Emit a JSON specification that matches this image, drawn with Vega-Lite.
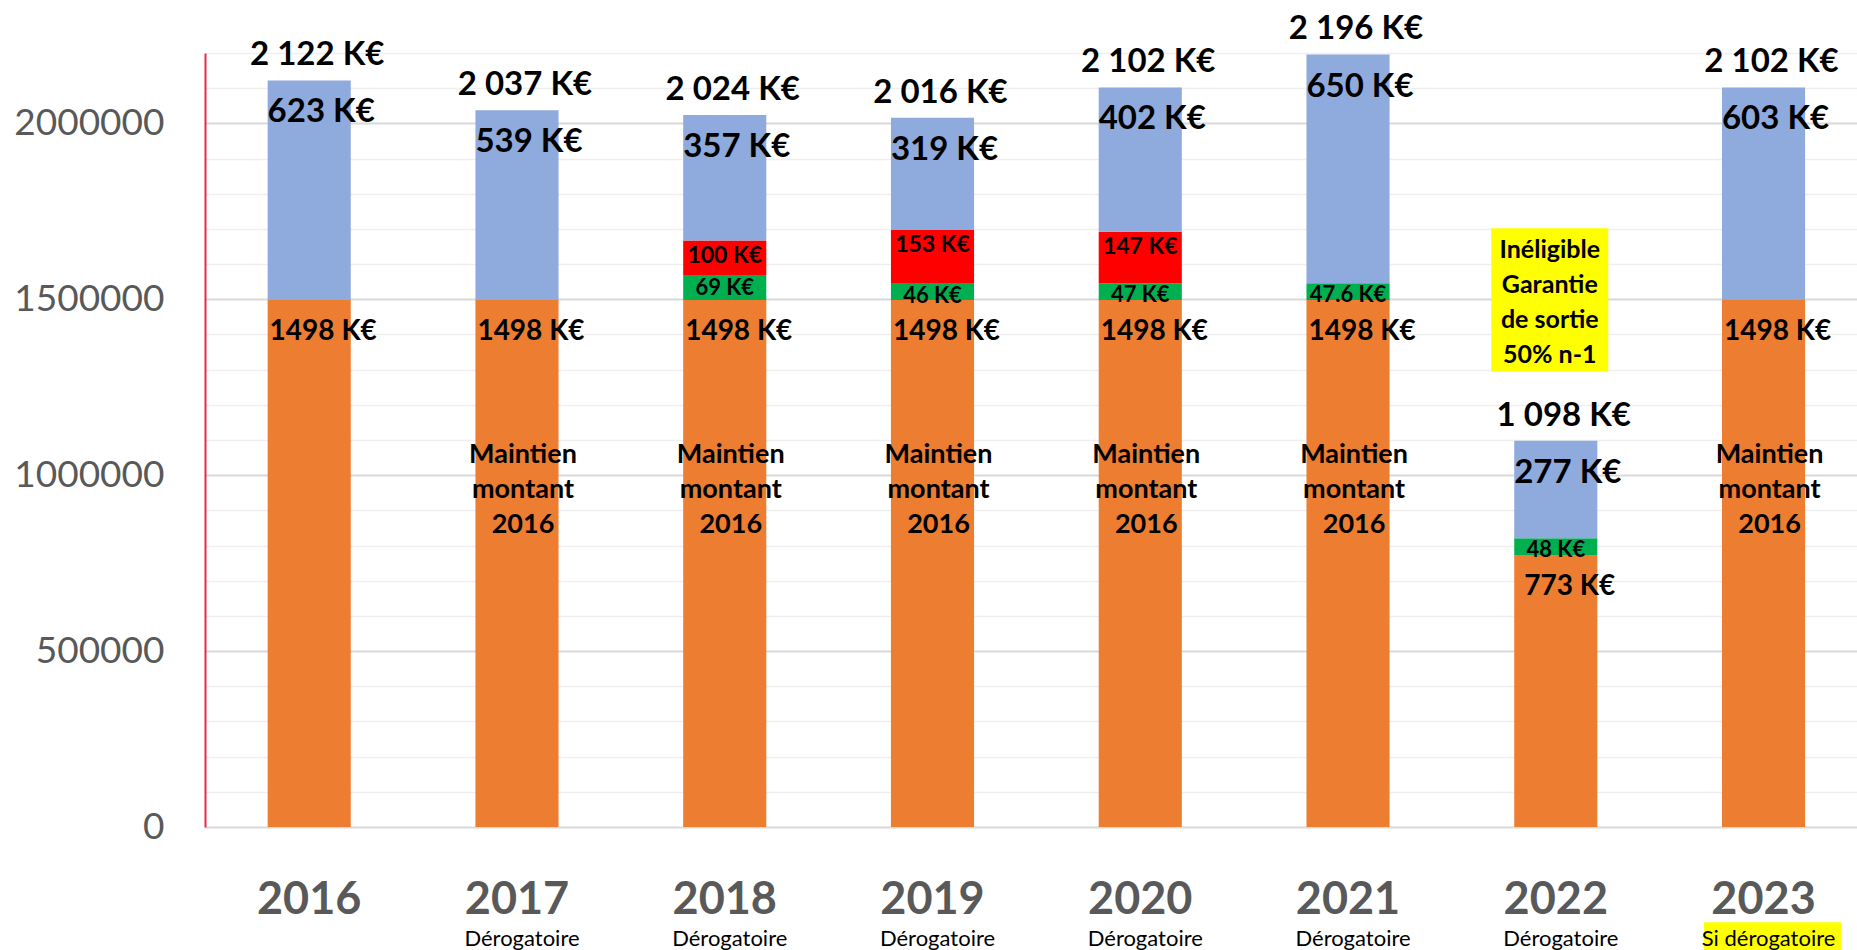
{
  "$schema": "https://vega.github.io/schema/vega-lite/v6.json",
  "width": 1652,
  "height": 774,
  "autosize": {"type": "none"},
  "padding": {"left": 205, "top": 53, "right": 0, "bottom": 123},
  "background": "#ffffff",
  "config": {"view": {"stroke": null}, "font": "Lato", "text": {"font": "Lato"}},
  "datasets": {
    "main": [
      {"year": "2016", "serie": "socle", "rang": 1, "v": 1498000, "label": "1498 K€"},
      {"year": "2016", "serie": "bleu", "rang": 4, "v": 624000, "label": "623 K€"},
      {"year": "2017", "serie": "socle", "rang": 1, "v": 1498000, "label": "1498 K€", "note": "Maintien\nmontant\n2016"},
      {"year": "2017", "serie": "bleu", "rang": 4, "v": 539000, "label": "539 K€"},
      {"year": "2018", "serie": "socle", "rang": 1, "v": 1498000, "label": "1498 K€", "note": "Maintien\nmontant\n2016"},
      {"year": "2018", "serie": "vert", "rang": 2, "v": 69000, "label": "69 K€"},
      {"year": "2018", "serie": "rouge", "rang": 3, "v": 100000, "label": "100 K€"},
      {"year": "2018", "serie": "bleu", "rang": 4, "v": 357000, "label": "357 K€"},
      {"year": "2019", "serie": "socle", "rang": 1, "v": 1498000, "label": "1498 K€", "note": "Maintien\nmontant\n2016"},
      {"year": "2019", "serie": "vert", "rang": 2, "v": 46000, "label": "46 K€"},
      {"year": "2019", "serie": "rouge", "rang": 3, "v": 153000, "label": "153 K€"},
      {"year": "2019", "serie": "bleu", "rang": 4, "v": 319000, "label": "319 K€"},
      {"year": "2020", "serie": "socle", "rang": 1, "v": 1498000, "label": "1498 K€", "note": "Maintien\nmontant\n2016"},
      {"year": "2020", "serie": "vert", "rang": 2, "v": 47000, "label": "47 K€"},
      {"year": "2020", "serie": "rouge", "rang": 3, "v": 147000, "label": "147 K€"},
      {"year": "2020", "serie": "bleu", "rang": 4, "v": 410000, "label": "402 K€"},
      {"year": "2021", "serie": "socle", "rang": 1, "v": 1498000, "label": "1498 K€", "note": "Maintien\nmontant\n2016"},
      {"year": "2021", "serie": "vert", "rang": 2, "v": 47600, "label": "47.6 K€"},
      {"year": "2021", "serie": "bleu", "rang": 4, "v": 650000, "label": "650 K€"},
      {"year": "2022", "serie": "socle", "rang": 1, "v": 773000, "label": "773 K€"},
      {"year": "2022", "serie": "vert", "rang": 2, "v": 48000, "label": "48 K€"},
      {"year": "2022", "serie": "bleu", "rang": 4, "v": 277000, "label": "277 K€"},
      {"year": "2023", "serie": "socle", "rang": 1, "v": 1498000, "label": "1498 K€", "note": "Maintien\nmontant\n2016"},
      {"year": "2023", "serie": "bleu", "rang": 4, "v": 604000, "label": "603 K€"}
    ],
    "totals": [
      {"year": "2016", "total": 2122000, "label": "2 122 K€"},
      {"year": "2017", "total": 2037000, "label": "2 037 K€"},
      {"year": "2018", "total": 2024000, "label": "2 024 K€"},
      {"year": "2019", "total": 2016000, "label": "2 016 K€"},
      {"year": "2020", "total": 2102000, "label": "2 102 K€"},
      {"year": "2021", "total": 2196000, "label": "2 196 K€"},
      {"year": "2022", "total": 1098000, "label": "1 098 K€"},
      {"year": "2023", "total": 2102000, "label": "2 102 K€"}
    ],
    "years": [
      {"year": "2016", "sub": ""},
      {"year": "2017", "sub": "Dérogatoire"},
      {"year": "2018", "sub": "Dérogatoire"},
      {"year": "2019", "sub": "Dérogatoire"},
      {"year": "2020", "sub": "Dérogatoire"},
      {"year": "2021", "sub": "Dérogatoire"},
      {"year": "2022", "sub": "Dérogatoire"},
      {"year": "2023", "sub": "Si dérogatoire"}
    ]
  },
  "resolve": {"axis": {"x": "independent", "y": "independent"}},
  "layer": [
    {
      "data": {"name": "main"},
      "transform": [
        {"stack": "v", "groupby": ["year"], "sort": [{"field": "rang", "order": "ascending"}], "as": ["v0", "v1"]}
      ],
      "mark": {"type": "bar"},
      "encoding": {
        "x": {
          "field": "year", "type": "nominal",
          "scale": {"paddingInner": 0.6, "paddingOuter": 0.2757, "align": 0.547, "round": false},
          "axis": {
            "orient": "bottom", "title": null, "labelAngle": 0, "labelFont": "Lato", "labelFontWeight": "bold",
            "labelFontSize": 45, "labelColor": "#595959", "labelPadding": 50, "ticks": false, "tickSize": 0,
            "domain": false, "grid": false
          }
        },
        "y": {
          "field": "v0", "type": "quantitative",
          "scale": {"domain": [0, 2200000], "nice": false, "zero": true},
          "axis": {
            "orient": "left", "title": null, "values": [0, 500000, 1000000, 1500000, 2000000], "format": "d",
            "labelFont": "Lato", "labelFontSize": 37, "labelColor": "#595959", "labelPadding": 41,
            "ticks": false, "tickSize": 0, "domain": true, "domainColor": "#e8294b", "domainWidth": 2,
            "grid": true, "gridColor": "#d9d9d9", "gridWidth": 2, "labelFlush": false, "labelOverlap": false
          }
        },
        "y2": {"field": "v1"},
        "color": {
          "field": "serie", "type": "nominal",
          "scale": {"domain": ["socle", "vert", "rouge", "bleu"], "range": ["#ED7D31", "#00B050", "#FF0000", "#8FAADC"]},
          "legend": null
        }
      }
    },
    {
      "data": {"values": [{}]},
      "mark": {"type": "bar", "color": "#FFFF00", "width": 117, "xOffset": -6},
      "encoding": {
        "x": {"datum": "2022", "type": "nominal", "axis": null},
        "y": {"datum": 1702000, "type": "quantitative", "axis": null},
        "y2": {"datum": 1295000}
      }
    },
    {
      "data": {"values": [{}]},
      "mark": {"type": "bar", "color": "#FFFF00", "width": 137, "xOffset": 9},
      "encoding": {
        "x": {"datum": "2023", "type": "nominal", "axis": null},
        "y": {"datum": -271000, "type": "quantitative", "axis": null},
        "y2": {"datum": -370000}
      }
    },
    {
      "data": {"name": "totals"},
      "mark": {"type": "text", "font": "Lato", "fontSize": 33, "fontWeight": "bold", "color": "#000000", "baseline": "alphabetic", "dx": 8, "dy": -15},
      "encoding": {
        "x": {"field": "year", "type": "nominal", "axis": null},
        "y": {
          "field": "total", "type": "quantitative",
          "axis": {
            "orient": "left", "title": null, "labels": false, "ticks": false, "tickSize": 0, "domain": false,
            "grid": true, "gridColor": "#efefef", "gridWidth": 1.5,
            "values": [100000, 200000, 300000, 400000, 600000, 700000, 800000, 900000, 1100000, 1200000, 1300000, 1400000, 1600000, 1700000, 1800000, 1900000, 2100000, 2200000]
          }
        },
        "text": {"field": "label"}
      }
    },
    {
      "data": {"name": "main"},
      "transform": [
        {"stack": "v", "groupby": ["year"], "sort": [{"field": "rang", "order": "ascending"}], "as": ["v0", "v1"]},
        {"filter": "datum.serie == 'bleu'"}
      ],
      "mark": {"type": "text", "font": "Lato", "fontSize": 33, "fontWeight": "bold", "color": "#000000", "baseline": "alphabetic", "dx": 12, "dy": 42},
      "encoding": {
        "x": {"field": "year", "type": "nominal", "axis": null},
        "y": {"field": "v1", "type": "quantitative", "axis": null},
        "text": {"field": "label"}
      }
    },
    {
      "data": {"name": "main"},
      "transform": [
        {"stack": "v", "groupby": ["year"], "sort": [{"field": "rang", "order": "ascending"}], "as": ["v0", "v1"]},
        {"filter": "datum.serie == 'socle'"}
      ],
      "mark": {"type": "text", "font": "Lato", "fontSize": 28, "fontWeight": "bold", "color": "#000000", "baseline": "alphabetic", "dx": 14, "dy": 40},
      "encoding": {
        "x": {"field": "year", "type": "nominal", "axis": null},
        "y": {"field": "v1", "type": "quantitative", "axis": null},
        "text": {"field": "label"}
      }
    },
    {
      "data": {"name": "main"},
      "transform": [
        {"stack": "v", "groupby": ["year"], "sort": [{"field": "rang", "order": "ascending"}], "as": ["v0", "v1"]},
        {"filter": "datum.serie == 'rouge'"}
      ],
      "mark": {"type": "text", "font": "Lato", "fontSize": 23, "fontWeight": "bold", "color": "#000000", "baseline": "alphabetic", "dy": 22},
      "encoding": {
        "x": {"field": "year", "type": "nominal", "axis": null},
        "y": {"field": "v1", "type": "quantitative", "axis": null},
        "text": {"field": "label"}
      }
    },
    {
      "data": {"name": "main"},
      "transform": [
        {"stack": "v", "groupby": ["year"], "sort": [{"field": "rang", "order": "ascending"}], "as": ["v0", "v1"]},
        {"filter": "datum.serie == 'vert'"}
      ],
      "mark": {"type": "text", "font": "Lato", "fontSize": 22, "fontWeight": "bold", "color": "#000000", "baseline": "alphabetic", "dy": 19},
      "encoding": {
        "x": {"field": "year", "type": "nominal", "axis": null},
        "y": {"field": "v1", "type": "quantitative", "axis": null},
        "text": {"field": "label"}
      }
    },
    {
      "data": {"name": "main"},
      "transform": [
        {"stack": "v", "groupby": ["year"], "sort": [{"field": "rang", "order": "ascending"}], "as": ["v0", "v1"]},
        {"filter": "datum.serie == 'socle' && datum.note"}
      ],
      "mark": {"type": "text", "font": "Lato", "fontSize": 27, "fontWeight": "bold", "color": "#000000", "baseline": "top", "lineBreak": "\n", "lineHeight": 35, "dx": 6, "dy": 142},
      "encoding": {
        "x": {"field": "year", "type": "nominal", "axis": null},
        "y": {"field": "v1", "type": "quantitative", "axis": null},
        "text": {"field": "note"}
      }
    },
    {
      "data": {"values": [{"year": "2022", "note": "Inéligible\nGarantie\nde sortie\n50% n-1"}]},
      "mark": {"type": "text", "font": "Lato", "fontSize": 25, "fontWeight": "bold", "color": "#000000", "baseline": "top", "lineBreak": "\n", "lineHeight": 35, "dx": -6},
      "encoding": {
        "x": {"field": "year", "type": "nominal", "axis": null},
        "y": {"datum": 1673500, "type": "quantitative", "axis": null},
        "text": {"field": "note"}
      }
    },
    {
      "data": {"name": "years"},
      "mark": {"type": "text", "font": "Lato", "fontSize": 22, "color": "#000000", "baseline": "alphabetic", "dx": 5},
      "encoding": {
        "x": {"field": "year", "type": "nominal", "axis": null},
        "y": {"datum": -338000, "type": "quantitative", "axis": null},
        "text": {"field": "sub"}
      }
    }
  ]
}
